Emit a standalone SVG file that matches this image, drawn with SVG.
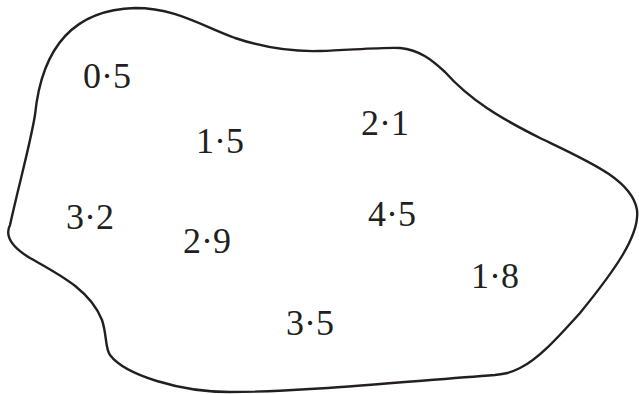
<svg xmlns="http://www.w3.org/2000/svg" width="639" height="394" viewBox="0 0 639 394">
<style>
.o{fill:none;stroke:#231f20;stroke-width:2.4;stroke-linejoin:round}
.t{font-family:"Liberation Serif","Times New Roman",serif;font-size:36px;fill:#231f20}
</style>
<rect width="639" height="394" fill="#fff"/>
<g id="region">
<path class="o" d="M 135 8 C 175 8 200 25 235 38 C 265 48 290 52 320 51 C 350 50 385 47 400 48 C 420 50 432 60 445 72 C 470 100 500 118 540 138 C 590 162 632 180 637 210 C 640 235 615 270 580 313 C 560 335 540 358 520 368 C 510 373 505 374 495 375 C 400 382 300 392 230 392 C 180 392 125 375 110 355 C 105 348 107 335 102 320 C 90 290 60 275 30 258 C 10 246 5 235 10 225 C 20 180 30 145 35 115 C 40 65 60 10 135 8 Z"/>
</g>
<g id="labels">
<text class="t" x="83" y="88">0·5</text>
<text class="t" x="196" y="153">1·5</text>
<text class="t" x="361" y="135">2·1</text>
<text class="t" x="66" y="229">3·2</text>
<text class="t" x="183" y="253">2·9</text>
<text class="t" x="368" y="226">4·5</text>
<text class="t" x="471" y="288">1·8</text>
<text class="t" x="286" y="335">3·5</text>
</g>
</svg>
